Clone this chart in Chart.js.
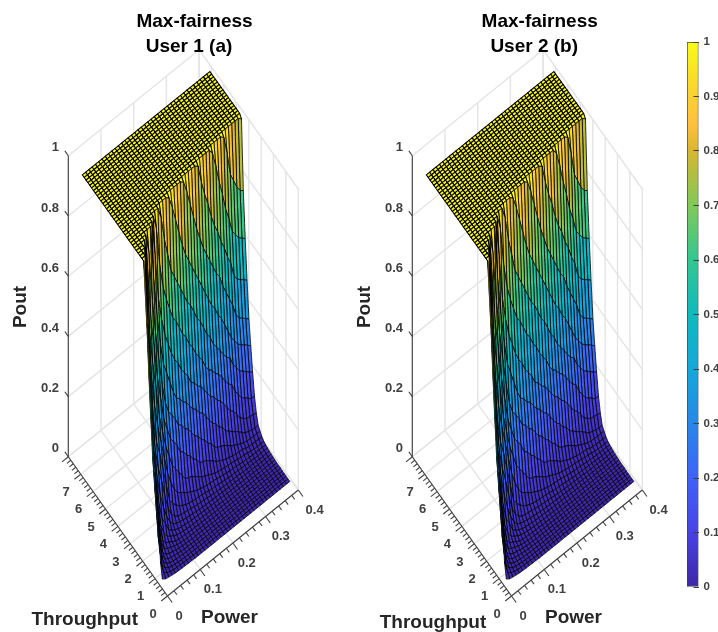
<!DOCTYPE html>
<html>
<head>
<meta charset="utf-8">
<title>Max-fairness</title>
<style>
  html, body { margin: 0; background: #fff; }
  canvas { position: absolute; top: 0; }
</style>
<script src="https://cdn.jsdelivr.net/npm/chart.js@4/dist/chart.umd.min.js"></script>
</head>
<body>
<canvas id="panel1" width="344" height="632" style="left:0"></canvas>
<canvas id="panel2" width="344" height="632" style="left:344px"></canvas>
<canvas id="colorbar" width="38" height="632" style="left:680px"></canvas>
<script>
// --- DATA ---
const throughputTicks = [0, 1, 2, 3, 4, 5, 6, 7];
const powerTicks = [0, 0.1, 0.2, 0.3, 0.4];
const poutTicks = [0, 0.2, 0.4, 0.6, 0.8, 1];
const colorbarTicks = [0, 0.1, 0.2, 0.3, 0.4, 0.5, 0.6, 0.7, 0.8, 0.9, 1];

const powerGrid = [.005,.015,.025,.035,.045,.055,.065,.075,.085,.095,.105,.115,.125,.135,.145,.155,.165,.175,.185,.195,
  .205,.215,.225,.235,.245,.255,.265,.275,.285,.295,.305,.315,.325,.335,.345,.355,.365,.375,.385,.395];
const throughputGrid = [.55,.7,.85,1,1.15,1.3,1.45,1.6,1.75,1.9,2.05,2.2,2.35,2.5,2.65,2.8,2.95,3.1,3.25,3.4,3.55,3.7,
  3.85,4,4.15,4.3,4.45,4.6,4.75,4.9,5.05,5.2,5.35,5.5,5.65,5.8,5.95,6.1,6.25,6.4,6.55,6.7,6.85,7];

// one row per throughputGrid value, one column per powerGrid value
const user1Pout = [
[.02,.012,.009,.007,.005,.004,.003,.003,.002,.002,.001,.001,.001,.001,.001,.001,.001,.001,.001,.001,.001,.001,.001,.001,.001,.001,.001,.001,.001,.001,.001,.001,.001,.001,.001,.001,.001,.001,.001,.001],
[.07,.025,.015,.01,.007,.006,.005,.004,.003,.003,.002,.002,.002,.002,.002,.002,.002,.002,.002,.002,.001,.001,.001,.001,.001,.001,.001,.001,.001,.001,.001,.001,.001,.001,.001,.001,.001,.001,.001,.001],
[.2,.04,.022,.014,.01,.008,.006,.005,.004,.004,.003,.003,.002,.002,.002,.002,.002,.002,.002,.002,.002,.002,.002,.002,.002,.002,.002,.002,.002,.002,.001,.001,.001,.001,.001,.001,.001,.001,.001,.001],
[.27,.075,.033,.02,.013,.01,.008,.007,.006,.005,.004,.004,.003,.003,.003,.002,.002,.002,.002,.002,.002,.002,.002,.002,.002,.002,.002,.002,.002,.002,.001,.001,.001,.001,.001,.001,.001,.001,.001,.001],
[.34,.12,.05,.027,.018,.013,.011,.009,.007,.006,.005,.005,.004,.004,.004,.003,.003,.003,.003,.002,.002,.002,.002,.002,.002,.002,.002,.002,.002,.002,.001,.001,.001,.001,.001,.001,.001,.001,.001,.001],
[.4,.2,.09,.037,.024,.018,.015,.012,.009,.008,.007,.006,.005,.005,.005,.004,.004,.004,.003,.003,.003,.003,.003,.003,.002,.002,.002,.002,.002,.002,.002,.002,.002,.002,.002,.002,.002,.002,.002,.002],
[.53,.28,.15,.065,.034,.026,.021,.016,.012,.01,.008,.007,.007,.006,.006,.005,.005,.005,.005,.004,.004,.004,.004,.003,.003,.003,.003,.003,.003,.002,.002,.002,.002,.002,.002,.002,.002,.002,.002,.002],
[.66,.36,.23,.11,.056,.035,.03,.021,.016,.012,.011,.01,.009,.008,.008,.007,.007,.006,.006,.006,.005,.005,.005,.005,.004,.004,.004,.004,.003,.003,.003,.003,.003,.003,.002,.002,.002,.002,.002,.002],
[.8,.48,.31,.18,.095,.06,.04,.031,.024,.018,.015,.013,.012,.011,.01,.01,.009,.009,.008,.008,.007,.007,.006,.006,.006,.005,.005,.005,.005,.004,.004,.004,.004,.003,.003,.003,.003,.003,.003,.003],
[.92,.61,.4,.26,.16,.1,.075,.046,.033,.027,.021,.019,.017,.015,.014,.013,.013,.012,.011,.01,.01,.009,.009,.008,.008,.007,.007,.006,.006,.006,.005,.005,.005,.005,.004,.004,.004,.004,.004,.004],
[.99,.76,.52,.34,.24,.17,.12,.08,.054,.036,.031,.027,.024,.021,.02,.018,.017,.015,.014,.013,.012,.012,.011,.011,.01,.009,.009,.008,.008,.008,.007,.007,.006,.006,.006,.005,.005,.005,.005,.005],
[.99,.99,.66,.46,.32,.25,.2,.14,.09,.062,.046,.037,.033,.031,.029,.027,.024,.022,.021,.02,.018,.017,.015,.014,.013,.012,.011,.011,.01,.01,.009,.008,.008,.008,.007,.007,.006,.006,.006,.006],
[.99,.99,.84,.58,.42,.33,.28,.22,.16,.1,.08,.065,.054,.046,.04,.036,.034,.032,.031,.029,.027,.024,.022,.021,.02,.018,.016,.015,.013,.013,.012,.011,.011,.01,.009,.008,.008,.008,.008,.008],
[.99,.99,.99,.73,.55,.44,.36,.3,.24,.18,.14,.11,.09,.08,.072,.062,.056,.05,.044,.04,.036,.034,.032,.031,.029,.026,.024,.022,.02,.019,.018,.016,.014,.013,.012,.011,.011,.01,.01,.01],
[.99,.99,.99,.95,.69,.57,.48,.38,.32,.26,.22,.18,.16,.14,.12,.1,.095,.09,.08,.072,.062,.056,.05,.044,.04,.035,.033,.031,.03,.028,.026,.023,.021,.02,.018,.015,.014,.013,.013,.013],
[.99,.99,.99,.99,.89,.71,.61,.5,.42,.34,.3,.26,.24,.22,.19,.18,.16,.15,.13,.12,.1,.095,.09,.08,.072,.06,.054,.048,.042,.038,.035,.033,.031,.029,.026,.022,.021,.02,.02,.02],
[.99,.99,.99,.99,.99,.92,.76,.64,.54,.45,.38,.34,.32,.3,.27,.26,.24,.23,.21,.19,.18,.16,.15,.13,.12,.1,.09,.085,.078,.07,.06,.052,.046,.04,.035,.032,.031,.03,.03,.029],
[.99,.99,.99,.99,.99,.99,.99,.81,.68,.58,.5,.46,.42,.38,.35,.34,.32,.31,.29,.27,.26,.24,.23,.21,.19,.17,.16,.14,.13,.11,.1,.09,.08,.072,.06,.05,.046,.042,.04,.04],
[.99,.99,.99,.99,.99,.99,.99,.99,.87,.72,.64,.58,.54,.5,.47,.45,.42,.4,.38,.35,.34,.32,.31,.29,.27,.25,.24,.22,.21,.19,.17,.15,.14,.12,.1,.09,.08,.078,.075,.072],
[.99,.99,.99,.99,.99,.99,.99,.99,.99,.94,.81,.73,.68,.64,.6,.58,.55,.52,.5,.47,.45,.42,.4,.38,.35,.33,.32,.3,.29,.27,.25,.23,.22,.19,.17,.15,.14,.13,.12,.12],
[.99,.99,.99,.99,.99,.99,.99,.99,.99,.99,.99,.95,.87,.81,.75,.72,.69,.66,.63,.6,.58,.55,.52,.5,.47,.44,.42,.39,.37,.35,.33,.31,.3,.27,.25,.23,.22,.21,.2,.19],
[.99,.99,.99,.99,.99,.99,.99,.99,.99,.99,.99,.99,.99,.99,.98,.94,.89,.84,.79,.75,.72,.69,.66,.63,.6,.57,.54,.51,.49,.46,.44,.41,.38,.35,.33,.31,.3,.29,.28,.27],
[.99,.99,.99,.99,.99,.99,.99,.99,.99,.99,.99,.99,.99,.99,.99,.99,.99,.99,.99,.98,.94,.89,.84,.79,.75,.71,.68,.65,.62,.59,.57,.53,.5,.47,.44,.4,.38,.37,.36,.35],
[.99,.99,.99,.99,.99,.99,.99,.99,.99,.99,.99,.99,.99,.99,.99,.99,.99,.99,.99,.99,.99,.99,.99,.99,.98,.92,.87,.83,.78,.74,.71,.67,.64,.6,.57,.52,.5,.49,.48,.47],
[.99,.99,.99,.99,.99,.99,.99,.99,.99,.99,.99,.99,.99,.99,.99,.99,.99,.99,.99,.99,.99,.99,.99,.99,.99,.99,.99,.99,.99,.97,.92,.86,.81,.75,.71,.66,.64,.62,.61,.6],
[.99,.99,.99,.99,.99,.99,.99,.99,.99,.99,.99,.99,.99,.99,.99,.99,.99,.99,.99,.99,.99,.99,.99,.99,.99,.99,.99,.99,.99,.99,.99,.99,.99,.98,.92,.84,.81,.78,.76,.75],
[.99,.99,.99,.99,.99,.99,.99,.99,.99,.99,.99,.99,.99,.99,.99,.99,.99,.99,.99,.99,.99,.99,.99,.99,.99,.99,.99,.99,.99,.99,.99,.99,.99,.99,.99,.99,.99,.99,.99,.98],
[.99,.99,.99,.99,.99,.99,.99,.99,.99,.99,.99,.99,.99,.99,.99,.99,.99,.99,.99,.99,.99,.99,.99,.99,.99,.99,.99,.99,.99,.99,.99,.99,.99,.99,.99,.99,.99,.99,.99,.99],
[.99,.99,.99,.99,.99,.99,.99,.99,.99,.99,.99,.99,.99,.99,.99,.99,.99,.99,.99,.99,.99,.99,.99,.99,.99,.99,.99,.99,.99,.99,.99,.99,.99,.99,.99,.99,.99,.99,.99,.99],
[.99,.99,.99,.99,.99,.99,.99,.99,.99,.99,.99,.99,.99,.99,.99,.99,.99,.99,.99,.99,.99,.99,.99,.99,.99,.99,.99,.99,.99,.99,.99,.99,.99,.99,.99,.99,.99,.99,.99,.99],
[.99,.99,.99,.99,.99,.99,.99,.99,.99,.99,.99,.99,.99,.99,.99,.99,.99,.99,.99,.99,.99,.99,.99,.99,.99,.99,.99,.99,.99,.99,.99,.99,.99,.99,.99,.99,.99,.99,.99,.99],
[.99,.99,.99,.99,.99,.99,.99,.99,.99,.99,.99,.99,.99,.99,.99,.99,.99,.99,.99,.99,.99,.99,.99,.99,.99,.99,.99,.99,.99,.99,.99,.99,.99,.99,.99,.99,.99,.99,.99,.99],
[.99,.99,.99,.99,.99,.99,.99,.99,.99,.99,.99,.99,.99,.99,.99,.99,.99,.99,.99,.99,.99,.99,.99,.99,.99,.99,.99,.99,.99,.99,.99,.99,.99,.99,.99,.99,.99,.99,.99,.99],
[.99,.99,.99,.99,.99,.99,.99,.99,.99,.99,.99,.99,.99,.99,.99,.99,.99,.99,.99,.99,.99,.99,.99,.99,.99,.99,.99,.99,.99,.99,.99,.99,.99,.99,.99,.99,.99,.99,.99,.99],
[.99,.99,.99,.99,.99,.99,.99,.99,.99,.99,.99,.99,.99,.99,.99,.99,.99,.99,.99,.99,.99,.99,.99,.99,.99,.99,.99,.99,.99,.99,.99,.99,.99,.99,.99,.99,.99,.99,.99,.99],
[.99,.99,.99,.99,.99,.99,.99,.99,.99,.99,.99,.99,.99,.99,.99,.99,.99,.99,.99,.99,.99,.99,.99,.99,.99,.99,.99,.99,.99,.99,.99,.99,.99,.99,.99,.99,.99,.99,.99,.99],
[.99,.99,.99,.99,.99,.99,.99,.99,.99,.99,.99,.99,.99,.99,.99,.99,.99,.99,.99,.99,.99,.99,.99,.99,.99,.99,.99,.99,.99,.99,.99,.99,.99,.99,.99,.99,.99,.99,.99,.99],
[.99,.99,.99,.99,.99,.99,.99,.99,.99,.99,.99,.99,.99,.99,.99,.99,.99,.99,.99,.99,.99,.99,.99,.99,.99,.99,.99,.99,.99,.99,.99,.99,.99,.99,.99,.99,.99,.99,.99,.99],
[.99,.99,.99,.99,.99,.99,.99,.99,.99,.99,.99,.99,.99,.99,.99,.99,.99,.99,.99,.99,.99,.99,.99,.99,.99,.99,.99,.99,.99,.99,.99,.99,.99,.99,.99,.99,.99,.99,.99,.99],
[.99,.99,.99,.99,.99,.99,.99,.99,.99,.99,.99,.99,.99,.99,.99,.99,.99,.99,.99,.99,.99,.99,.99,.99,.99,.99,.99,.99,.99,.99,.99,.99,.99,.99,.99,.99,.99,.99,.99,.99],
[.99,.99,.99,.99,.99,.99,.99,.99,.99,.99,.99,.99,.99,.99,.99,.99,.99,.99,.99,.99,.99,.99,.99,.99,.99,.99,.99,.99,.99,.99,.99,.99,.99,.99,.99,.99,.99,.99,.99,.99],
[.99,.99,.99,.99,.99,.99,.99,.99,.99,.99,.99,.99,.99,.99,.99,.99,.99,.99,.99,.99,.99,.99,.99,.99,.99,.99,.99,.99,.99,.99,.99,.99,.99,.99,.99,.99,.99,.99,.99,.99],
[.99,.99,.99,.99,.99,.99,.99,.99,.99,.99,.99,.99,.99,.99,.99,.99,.99,.99,.99,.99,.99,.99,.99,.99,.99,.99,.99,.99,.99,.99,.99,.99,.99,.99,.99,.99,.99,.99,.99,.99],
[.99,.99,.99,.99,.99,.99,.99,.99,.99,.99,.99,.99,.99,.99,.99,.99,.99,.99,.99,.99,.99,.99,.99,.99,.99,.99,.99,.99,.99,.99,.99,.99,.99,.99,.99,.99,.99,.99,.99,.99]
];
// the two users can't be told apart at this resolution
const user2Pout = user1Pout;

// parula as it shows on the colorbar
const colorStops = [0, .1, .2, .3, .4, .5, .6, .7, .8, .85, .9, 1];
const colorValues = [[62,38,168],[72,66,229],[62,99,248],[40,135,232],[20,168,218],[15,186,190],
  [50,198,145],[128,202,88],[215,182,50],[255,192,60],[250,208,50],[249,251,20]];

// --- VIEW ---
const FONT = '"Liberation Sans", Arial, sans-serif';
const T_MAX = 8, P_MAX = 0.4;
// pixel position of the front floor corner and the pixels per axis unit
const view = { x0: 167.5, y0: 596, tx: -12.4, ty: -17.4, px: 327, py: -265, zy: -301 };

function project(t, p, z) {
    return {
        x: view.x0 + t * view.tx + p * view.px,
        y: view.y0 + t * view.ty + p * view.py + z * view.zy
    };
}

function parula(v) {
    let i = 0;
    while (i < colorStops.length - 2 && v > colorStops[i + 1]) i++;
    const f = Math.min(1, (v - colorStops[i]) / (colorStops[i + 1] - colorStops[i]));
    const c = colorValues[i].map((a, k) => Math.round(a + (colorValues[i + 1][k] - a) * f));
    return `rgb(${c[0]},${c[1]},${c[2]})`;
}

function lineSet(points, color, width) {
    return { data: points, showLine: true, fill: false, borderColor: color, borderWidth: width };
}

// the plateau reads darker than the floor in the reference, and the steep first
// columns of the wall would turn solid black with full-width mesh lines
function meshWidth(z, j) {
    if (z > 0.98) return 1.05;
    if (j < 3 && z > 0.3) return 0.3;
    return 0.8;
}

function surfaceSets(pout) {
    // first dataset is drawn last, so the cells nearest the viewer come first
    const sets = [];
    for (let i = 0; i < throughputGrid.length - 1; i++) {
        for (let j = 0; j < powerGrid.length - 1; j++) {
            const t0 = throughputGrid[i], t1 = throughputGrid[i + 1];
            const p0 = powerGrid[j], p1 = powerGrid[j + 1];
            const a = project(t0, p0, pout[i][j]);
            sets.push({
                data: [a, project(t1, p0, pout[i + 1][j]), project(t1, p1, pout[i + 1][j + 1]),
                    project(t0, p1, pout[i][j + 1]), a],
                showLine: true,
                fill: 'shape',
                backgroundColor: parula(pout[i][j]),
                borderColor: '#000',
                borderWidth: meshWidth(pout[i][j], j),
                // non-zero tension keeps Chart.js off its fast path, which would merge small cells
                tension: 0.0001
            });
        }
    }
    return sets;
}

function axisSets() {
    const GRID = '#e4e4e4', AXIS = '#404040';
    const sets = [];
    const tick = (a, dx, dy, len) => sets.push(lineSet([a, { x: a.x + dx * len, y: a.y + dy * len }], AXIS, 1.1));

    // axis rulers
    sets.push(lineSet([project(T_MAX, 0, 0), project(T_MAX, 0, 1)], AXIS, 1.1));
    sets.push(lineSet([project(T_MAX, 0, 0), project(0, 0, 0)], AXIS, 1.1));
    sets.push(lineSet([project(0, 0, 0), project(0, P_MAX, 0)], AXIS, 1.1));

    // ticks
    poutTicks.forEach(z => tick(project(T_MAX, 0, z), -0.58, -0.81, 6));
    for (let k = 0; k <= 40; k++) {
        tick(project(k / 5, 0, 0), -0.78, 0.63, k % 5 === 0 ? 8 : 5);
    }
    for (let k = 0; k <= 20; k++) {
        tick(project(0, k / 50, 0), 0.58, 0.81, k % 5 === 0 ? 8 : 5);
    }

    // back walls and floor
    poutTicks.forEach(z => {
        sets.push(lineSet([project(T_MAX, 0, z), project(T_MAX, P_MAX, z), project(0, P_MAX, z)], GRID, 1.4));
    });
    powerTicks.forEach(p => {
        sets.push(lineSet([project(0, p, 0), project(T_MAX, p, 0), project(T_MAX, p, 1)], GRID, 1.4));
    });
    throughputTicks.concat(T_MAX).forEach(t => {
        sets.push(lineSet([project(t, 0, 0), project(t, P_MAX, 0), project(t, P_MAX, 1)], GRID, 1.4));
    });
    return sets;
}

// text that has no place in the library's own 2D axes
const panelText = {
    id: 'panelText',
    afterDraw(chart, args, opts) {
        const { ctx, scales: { x, y } } = chart;
        const put = (text, px, py, font, color, align, rot) => {
            ctx.save();
            ctx.translate(x.getPixelForValue(px), y.getPixelForValue(py));
            if (rot) ctx.rotate(rot);
            ctx.font = font + ' ' + FONT;
            ctx.fillStyle = color;
            ctx.textAlign = align || 'center';
            ctx.textBaseline = 'middle';
            ctx.fillText(text, 0, 0);
            ctx.restore();
        };
        const TICK = 'bold 13px', LABEL = 'bold 19px';
        put('Max-fairness', opts.titleX, 22, LABEL, '#000');
        put(opts.title, opts.titleX - 5.5, 47, LABEL, '#000');
        put('Pout', 20.5, 307, LABEL, '#262626', 'center', -Math.PI / 2);
        put('Throughput', opts.throughputX, opts.throughputY, LABEL, '#262626');
        put('Power', 229.5, 617.5, LABEL, '#262626');
        poutTicks.forEach(z => {
            put(String(z), 59, project(T_MAX, 0, z).y - 8, TICK, '#404040', 'right');
        });
        throughputTicks.forEach(t => {
            const a = project(t, 0, 0);
            put(String(t), a.x - 14.5, a.y + 18.3, TICK, '#404040');
        });
        powerTicks.forEach(p => {
            const a = project(0, p, 0);
            put(String(p), a.x + 11.5 + p * 12, a.y + 20, TICK, '#404040');
        });
    }
};

function panelChart(id, pout, text) {
    return new Chart(document.getElementById(id), {
        type: 'scatter',
        data: { datasets: surfaceSets(pout).concat(axisSets()) },
        options: {
            responsive: false,
            animation: false,
            events: [],
            parsing: false,
            normalized: true,
            layout: { padding: 0 },
            elements: { point: { radius: 0 }, line: { capBezierPoints: false } },
            scales: {
                x: { type: 'linear', display: false, min: 0, max: 344 },
                y: { type: 'linear', display: false, min: 0, max: 632, reverse: true }
            },
            plugins: { legend: { display: false }, tooltip: { enabled: false }, panelText: text }
        },
        plugins: [panelText]
    });
}

panelChart('panel1', user1Pout, { title: 'User 1 (a)', titleX: 194.5, throughputX: 84.7, throughputY: 620 });
panelChart('panel2', user2Pout, { title: 'User 2 (b)', titleX: 195.7, throughputX: 89, throughputY: 623 });

// --- COLORBAR ---
new Chart(document.getElementById('colorbar'), {
    type: 'bar',
    data: {
        labels: [''],
        datasets: [{
            data: [[0, 1]],
            barPercentage: 1,
            categoryPercentage: 1,
            borderWidth: 1,
            borderSkipped: false,
            borderColor: '#404040',
            backgroundColor(c) {
                const area = c.chart.chartArea;
                if (!area) return '#fff';
                const g = c.chart.ctx.createLinearGradient(0, area.bottom, 0, area.top);
                colorStops.forEach(s => g.addColorStop(s, parula(s)));
                return g;
            }
        }]
    },
    options: {
        responsive: false,
        animation: false,
        events: [],
        layout: { padding: { left: 7, top: 42, bottom: 45 } },
        scales: {
            x: { display: false },
            y: {
                position: 'right',
                min: 0,
                max: 1,
                afterFit(scale) { scale.width = 19.5; },
                afterBuildTicks(scale) { scale.ticks = colorbarTicks.map(value => ({ value })); },
                grid: { drawOnChartArea: false, tickLength: -5, tickColor: '#404040', z: 1 },
                border: { display: false },
                ticks: {
                    padding: 10,
                    color: '#404040',
                    font: { family: FONT, weight: 'bold', size: 11.5 },
                    autoSkip: false,
                    maxRotation: 0,
                    callback: value => String(value)
                }
            }
        },
        plugins: { legend: { display: false }, tooltip: { enabled: false } }
    }
});
</script>
</body>
</html>
